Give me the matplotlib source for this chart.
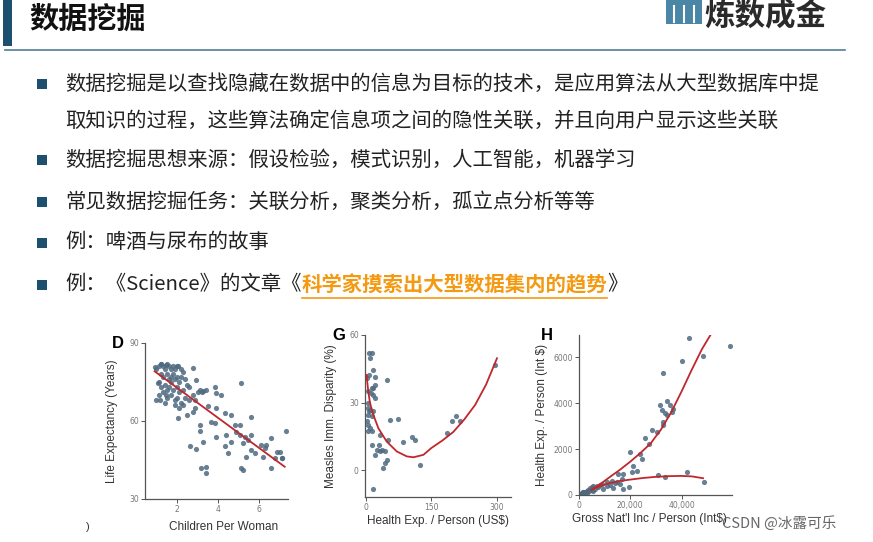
import numpy as np
import matplotlib.pyplot as plt
from matplotlib.patches import Rectangle
from matplotlib.lines import Line2D

W, H = 873, 542
CJK = ['Noto Sans CJK SC', 'DejaVu Sans']
LAT = ['Liberation Sans', 'DejaVu Sans']

title = "数据挖掘"
logo = "炼数成金"
bullet_lines = [
    "数据挖掘是以查找隐藏在数据中的信息为目标的技术，是应用算法从大型数据库中提",
    "取知识的过程，这些算法确定信息项之间的隐性关联，并且向用户显示这些关联",
    "数据挖掘思想来源：假设检验，模式识别，人工智能，机器学习",
    "常见数据挖掘任务：关联分析，聚类分析，孤立点分析等等",
    "例：啤酒与尿布的故事",
]
last_pre = "例：《Science》的文章《"
last_link = "科学家摸索出大型数据集内的趋势"
last_post = "》"

# panel D: children per woman vs life expectancy
D_x = [0.91, 1.24, 1.48, 2.05, 2.78, 2.94, 1.07, 1.15, 1.48, 2.05, 2.49, 2.78, 2.86,
       3.27, 3.40, 3.84, 3.92, 4.16, 3.51, 3.92, 4.33, 4.65, 5.06, 5.63, 5.63, 4.81,
       3.84, 3.67, 3.10, 3.10, 3.92, 4.41, 4.65, 3.27, 2.62, 2.91, 4.33, 4.49, 5.30,
       5.46, 5.22, 5.79, 5.38, 6.11, 6.36, 6.60, 6.28, 6.85, 7.10, 7.33, 6.60, 5.14,
       3.19, 3.40, 3.43, 5.14, 5.22, 6.20, 5.63, 4.89, 5.06, 6.77, 7.10, 7.00,
       1.0, 1.1, 1.2, 1.3, 1.4, 1.5, 1.6, 1.7, 1.8, 1.9, 2.0, 2.2, 2.3, 1.2, 1.3, 1.5,
       1.6, 1.7, 1.8, 1.9, 2.0, 2.1, 2.2, 2.4, 1.1, 1.2, 1.4, 1.5, 1.6, 1.7, 1.8, 2.0,
       2.1, 2.3, 2.5, 2.6, 1.1, 1.3, 1.5, 1.7, 1.9, 2.0, 2.2, 2.4, 2.6, 2.8, 3.0, 3.1,
       3.2, 2.9, 1.9, 2.1, 2.3, 1.4, 1.0]
D_y = [80.6, 81.9, 81.6, 81.0, 80.4, 75.9, 74.6, 68.1, 70.1, 61.1, 62.4, 63.4, 65.0,
       71.4, 72.0, 72.9, 70.7, 70.1, 65.6, 64.9, 63.0, 62.4, 58.5, 61.7, 54.7, 58.5,
       59.2, 59.8, 58.5, 56.2, 54.0, 54.7, 52.1, 52.1, 50.2, 49.3, 50.2, 47.6, 54.0,
       52.7, 51.4, 47.6, 46.3, 50.8, 50.8, 53.4, 49.5, 48.2, 45.9, 56.0, 41.8, 74.6,
       41.8, 42.4, 39.9, 41.8, 41.2, 46.3, 48.9, 55.8, 54.7, 45.9, 45.6, 48.2,
       80, 81, 82, 81, 80, 82, 81, 80, 81, 80, 81, 80, 79, 78, 77, 78,
       76, 77, 78, 76, 77, 75, 77, 76, 75, 73, 74, 72, 73, 75, 72, 73,
       71, 72, 74, 73, 70, 71, 69, 70, 68, 69, 67, 69, 68, 70, 71, 72,
       71, 68, 66, 65, 66, 67, 68]
D_fit_x = [0.91, 7.25]
D_fit_y = [79.1, 42.4]

# panel G: health expenditure vs measles immunisation disparity
G_x = [8.4, 13.7, 9.9, 7.6, 17.6, 21.4, 21.4, 17.6, 6.1, 11.5, 17.6, 21.4, 6.1, 9.9,
       17.6, 6.1, 13.7, 2.3, 6.1, 9.9, 6.1, 13.7, 48.1, 55.7, 74.8, 32.8, 51.9, 13.7,
       31.3, 36.6, 25.2, 21.4, 32.8, 44.3, 48.1, 44.3, 40.5, 84.7, 105.3, 112.9, 124.4,
       17.6, 185.5, 197.0, 206.9, 214.5, 296.0, 6.1, 13.7, 2.3, 8.4]
G_y = [51.9, 51.9, 49.7, 42.3, 44.5, 41.6, 37.9, 36.4, 35.0, 34.2, 33.5, 32.0, 29.8,
       26.8, 26.1, 24.6, 23.9, 21.7, 20.2, 18.7, 17.3, 17.3, 40.1, 22.4, 22.9, 15.8,
       13.6, 11.1, 11.1, 9.1, 9.1, 6.9, 8.4, 8.4, 4.7, 3.2, 1.0, 12.5, 15.0, 13.6, 2.5,
       -8.1, 16.5, 21.7, 23.9, 21.7, 46.8, 27.6, 36.4, 40.9, 26.1]
G_fit_x = [2.3, 4, 6, 10, 17.6, 29, 48, 71, 94, 109, 132, 150, 175, 200, 225, 250,
           275, 300]
G_fit_y = [42.3, 38.5, 35.0, 29.8, 24.6, 18.7, 12.8, 8.4, 6.2, 5.8, 6.9, 9.9, 13.2,
           17.0, 22.5, 29.0, 38.0, 49.7]

# panel H: gross national income vs health expenditure
H_x = [43000, 58800, 40000, 48400, 32900, 34200, 31600, 32200, 33500, 35500, 36200,
       36800, 34400, 32900, 32600, 30300, 28300, 25700, 27500, 23800, 24400, 19900,
       21200, 22500, 20500, 17300, 16600, 19600, 17000, 14700, 12700, 10800, 8200,
       5600, 4300, 3000, 1700, 1000, 2300, 3600, 4900, 6900, 8800, 12100, 14000,
       30900, 33500, 42200, 48700, 16000, 9500, 13400, 5600, 400, 1400, 10800, 15300,
       600, 900, 1200, 2000, 2600, 3300, 4000, 5200, 6200, 7500]
H_y = [6810, 6490, 5840, 6060, 5310, 4080, 3900, 3680, 3580, 3900, 3610, 3730, 3490,
       3170, 3030, 2740, 2810, 2470, 2230, 1790, 1570, 1890, 1280, 1030, 990, 920, 700,
       360, 260, 550, 630, 550, 440, 410, 290, 190, 120, 70, 150, 230, 330, 380, 480,
       440, 520, 870, 770, 1020, 580, 480, 260, 290, 190, 40, 120, 410, 920,
       60, 30, 90, 60, 130, 100, 170, 210, 260, 330]
H_hi_x = [4900, 8000, 12000, 16000, 20000, 24000, 28000, 32000, 36000, 40000, 44000,
          48000, 51500]
H_hi_y = [230, 450, 780, 1100, 1450, 1830, 2250, 2850, 3600, 4500, 5450, 6350, 7000]
H_lo_x = [4900, 8000, 12000, 16000, 20000, 25000, 30000, 35000, 40000, 44000, 48400]
H_lo_y = [230, 380, 520, 610, 670, 740, 790, 820, 830, 810, 730]

DOT = '#4f6a80'
RED = '#c0272d'

fig = plt.figure(figsize=(W / 100, H / 100), dpi=100)
fig.patch.set_facecolor('white')


def fx(px):
    return px / W


def fy(py):
    return 1 - py / H


# header
fig.add_artist(Rectangle((fx(3), fy(46)), 9 / W, 46 / H, color='#1d4f6e', lw=0))
fig.add_artist(Line2D([fx(5), fx(845)], [fy(50), fy(50)], color='#4f7f92', lw=1.2))
fig.text(fx(29), fy(19), title, family=CJK, fontsize=21, fontweight='bold',
         color='#111111', va='center', ha='left')
fig.add_artist(Rectangle((fx(666), fy(24)), 36 / W, 24 / H, color='#4a86a6', lw=0))
for bx in [674, 684, 694]:
    fig.add_artist(Line2D([fx(bx), fx(bx)], [fy(22), fy(6)], color='white', lw=1.5))
fig.text(fx(704), fy(16), logo, family=CJK, fontsize=22, fontweight='bold',
         color='#2a2a2a', va='center', ha='left')

# bullets
FS = 14.7
line_y = [84, 121, 160, 202, 243]
for i, (s, yy) in enumerate(zip(bullet_lines, line_y)):
    if i != 1:
        fig.add_artist(Rectangle((fx(37), fy(yy + 5)), 10 / W, 10 / H,
                                 color='#1d4f6e', lw=0))
    fig.text(fx(65), fy(yy), s, family=CJK, fontsize=FS, color='#222222',
             va='center', ha='left')

fig.add_artist(Rectangle((fx(37), fy(290)), 10 / W, 10 / H, color='#1d4f6e', lw=0))
t1 = fig.text(fx(65), fy(285), last_pre, family=CJK, fontsize=FS, color='#222222',
              va='center', ha='left')
fig.canvas.draw()
r = fig.canvas.get_renderer()
bb = t1.get_window_extent(r)
t2 = fig.text(bb.x1 / W, fy(285), last_link, family=CJK, fontsize=FS,
              fontweight='bold', color='#f39a12', va='center', ha='left')
bb2 = t2.get_window_extent(r)
fig.text(bb2.x1 / W, fy(285), last_post, family=CJK, fontsize=FS, color='#222222',
         va='center', ha='left')
fig.add_artist(Line2D([bb2.x0 / W, bb2.x1 / W], [fy(298), fy(298)],
                      color='#f39a12', lw=1.2))


def add_ax(left, top, right, bottom):
    ax = fig.add_axes([fx(left), fy(bottom), (right - left) / W, (bottom - top) / H])
    ax.set_facecolor('none')
    for sp in ['top', 'right']:
        ax.spines[sp].set_visible(False)
    for sp in ['left', 'bottom']:
        ax.spines[sp].set_color('#555555')
        ax.spines[sp].set_linewidth(0.9)
    ax.tick_params(length=3, width=0.7, color='#555555', labelsize=5.5,
                   labelcolor='#777777', pad=1.5)
    return ax


lab = dict(family=LAT, fontsize=8.5, color='#333333')

# D
ax = add_ax(145, 343, 288, 499)
ax.scatter(D_x, D_y, s=14, color=DOT, alpha=0.85, lw=0, zorder=2)
ax.plot(D_fit_x, D_fit_y, color=RED, lw=1.3, zorder=3)
ax.set_xlim(0.44, 7.41)
ax.set_ylim(30, 90)
ax.set_xticks([2, 4, 6])
ax.set_yticks([30, 60, 90])
ax.set_xlabel("Children Per Woman", **lab)
ax.set_ylabel("Life Expectancy (Years)", **lab)
ax.xaxis.set_label_coords(0.55, -0.14)
ax.yaxis.set_label_coords(-0.19, 0.5)
fig.text(fx(112), fy(344), "D", family=LAT, fontsize=12, fontweight='bold',
         va='center', ha='left')

# G
ax = add_ax(365, 335, 511, 497)
ax.scatter(G_x, G_y, s=14, color=DOT, alpha=0.85, lw=0, zorder=2)
ax.plot(G_fit_x, G_fit_y, color=RED, lw=1.3, zorder=3)
ax.set_xlim(-1.5, 332)
ax.set_ylim(-11.8, 60)
ax.set_xticks([0, 150, 300])
ax.set_yticks([0, 30, 60])
ax.set_xlabel("Health Exp. / Person (US$)", **lab)
ax.set_ylabel("Measles Imm. Disparity (%)", **lab)
ax.xaxis.set_label_coords(0.5, -0.11)
ax.yaxis.set_label_coords(-0.19, 0.5)
fig.text(fx(332), fy(336), "G", family=LAT, fontsize=12, fontweight='bold',
         va='center', ha='left')

# H
ax = add_ax(579, 335, 732, 495)
ax.scatter(H_x, H_y, s=14, color=DOT, alpha=0.85, lw=0, zorder=2)
ax.plot(H_hi_x, H_hi_y, color=RED, lw=1.3, zorder=3)
ax.plot(H_lo_x, H_lo_y, color=RED, lw=1.3, zorder=3)
ax.set_xlim(0, 59700)
ax.set_ylim(0, 6960)
ax.set_xticks([0, 20000, 40000])
ax.set_xticklabels(['0', '20,000', '40,000'])
ax.set_yticks([0, 2000, 4000, 6000])
ax.set_xlabel("Gross Nat'l Inc / Person (Int$)", **lab)
ax.set_ylabel("Health Exp. / Person (Int $)", **lab)
ax.xaxis.set_label_coords(0.46, -0.11)
ax.yaxis.set_label_coords(-0.2, 0.5)
fig.text(fx(541), fy(336), "H", family=LAT, fontsize=12, fontweight='bold',
         va='center', ha='left')

fig.text(fx(86), fy(527), ")", family=LAT, fontsize=8, color='#333333',
         va='center', ha='left')
fig.text(fx(722), fy(523), "CSDN @冰露可乐", family=CJK, fontsize=10.5,
         color='#666666', va='center', ha='left')

fig.savefig('out.png', dpi=100, facecolor='white')
